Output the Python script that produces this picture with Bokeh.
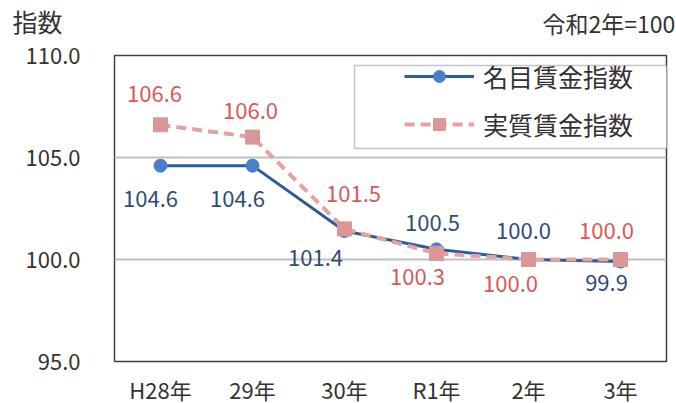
from bokeh.plotting import figure
from bokeh.layouts import column
from bokeh.models import (FactorRange, Range1d, FixedTicker, PrintfTickFormatter,
                          Legend, LegendItem, BoxAnnotation, Label, ColumnDataSource)
from bokeh.core.properties import value
from bokeh.embed import file_html
from bokeh.resources import INLINE

# Wage index, base year Reiwa 2 = 100
years = ["H28年", "29年", "30年", "R1年", "2年", "3年"]
nominal = [104.6, 104.6, 101.4, 100.5, 100.0, 99.9]
real = [106.6, 106.0, 101.5, 100.3, 100.0, 100.0]
y_ticks = [95, 100, 105, 110]
grid_ticks = [100, 105]

# label placement (pixels) around each point
nom_dx = [-10, -15, -29, -4, -5, -14]
nom_dy = [33, 33, 27, -26, -29, 21]
real_dx = [-6, -2, 9, -19, -18, -14]
real_dy = [-31, -26, -35, 24, 24, -29]

FONT = "Noto Sans CJK JP"
BLUE_LINE = "#2f5a9e"
BLUE_MARK = "#4a7fcb"
BLUE_TEXT = "#2f4c74"
PINK_LINE = "#e3a3a3"
PINK_MARK = "#db9696"
RED_TEXT = "#d45a5a"
DARK = "#333333"
LEFT, RIGHT = 114, 10

x_range = FactorRange(factors=years)

# ---- heading strip -------------------------------------------------------
head = figure(width=676, height=40, x_range=Range1d(0, 1), y_range=Range1d(0, 1),
              output_backend="svg", toolbar_location=None,
              x_axis_location=None, y_axis_location=None, min_border=0)
head.outline_line_color = None
head.grid.visible = False
head.add_layout(Label(x=12, y=20, x_units="canvas", y_units="canvas", text="指数",
                      text_font=FONT, text_font_size="25px", text_color=DARK,
                      text_baseline="middle"), "left")
head.add_layout(Label(x=542, y=22, x_units="canvas", y_units="canvas",
                      text="令和2年=100", text_font=FONT, text_font_size="23px",
                      text_color=DARK, text_baseline="middle"), "above")

# ---- main chart ----------------------------------------------------------
p = figure(width=676, height=333, x_range=x_range, y_range=Range1d(95, 110),
           output_backend="svg", toolbar_location=None, x_axis_location=None,
           min_border_left=LEFT, min_border_right=RIGHT, min_border_top=15,
           min_border_bottom=12)

p.outline_line_color = "#404040"
p.outline_line_width = 1.5
p.xgrid.grid_line_color = None
p.ygrid.ticker = FixedTicker(ticks=grid_ticks)
p.ygrid.grid_line_color = "#bfbfbf"
p.ygrid.grid_line_width = 2

p.yaxis.ticker = FixedTicker(ticks=y_ticks)
p.yaxis.formatter = PrintfTickFormatter(format="%.1f")
p.yaxis.axis_line_color = None
p.yaxis.major_tick_line_color = None
p.yaxis.minor_tick_line_color = None
p.yaxis.major_tick_out = 0
p.yaxis.major_tick_in = 0
p.yaxis.major_label_text_font = FONT
p.yaxis.major_label_text_font_size = "22px"
p.yaxis.major_label_text_color = DARK
p.yaxis.major_label_standoff = 34

src_n = ColumnDataSource(dict(x=years, y=nominal, t=[f"{v:.1f}" for v in nominal],
                              dx=nom_dx, dy=nom_dy))
src_r = ColumnDataSource(dict(x=years, y=real, t=[f"{v:.1f}" for v in real],
                              dx=real_dx, dy=real_dy))

bl = p.line("x", "y", source=src_n, line_color=BLUE_LINE, line_width=3)
bs = p.scatter("x", "y", source=src_n, marker="circle", size=13,
               fill_color=BLUE_MARK, line_color=BLUE_MARK)
rl = p.line("x", "y", source=src_r, line_color=PINK_LINE, line_width=4,
            line_dash="10 6")
rs = p.scatter("x", "y", source=src_r, marker="square", size=14,
               fill_color=PINK_MARK, line_color=PINK_MARK)

p.text("x", "y", text="t", source=src_n, x_offset="dx", y_offset="dy",
       text_font=value(FONT), text_font_size="22px", text_color=BLUE_TEXT,
       text_align="center", text_baseline="middle")
p.text("x", "y", text="t", source=src_r, x_offset="dx", y_offset="dy",
       text_font=value(FONT), text_font_size="22px", text_color=RED_TEXT,
       text_align="center", text_baseline="middle")

# legend frame
box = BoxAnnotation(left=240, right=558, top=296, bottom=213,
                    left_units="screen", right_units="screen",
                    top_units="screen", bottom_units="screen",
                    fill_color="white", fill_alpha=1.0,
                    line_color="#404040", line_width=1.5)
p.add_layout(box)

legend = Legend(items=[LegendItem(label="名目賃金指数", renderers=[bl, bs]),
                       LegendItem(label="実質賃金指数", renderers=[rl, rs])],
                location=(290, 219), padding=0, spacing=12,
                glyph_width=70, glyph_height=30, label_standoff=9,
                label_text_font=FONT, label_text_font_size="25px",
                label_text_color=DARK, border_line_alpha=0,
                background_fill_alpha=0)
p.add_layout(legend)

# ---- category labels along the bottom -------------------------------------
foot = figure(width=676, height=30, x_range=x_range, y_range=Range1d(0, 30),
              output_backend="svg", toolbar_location=None,
              x_axis_location=None, y_axis_location=None,
              min_border_left=LEFT, min_border_right=RIGHT,
              min_border_top=0, min_border_bottom=0)
foot.outline_line_color = None
foot.grid.visible = False
foot.text(x=years, y=[15] * len(years), text=years, text_font=value(FONT),
          text_font_size="22px", text_color=DARK, text_align="center",
          text_baseline="middle")

layout = column(head, p, foot, spacing=0)
open("out.html", "w").write(file_html(layout, INLINE))
